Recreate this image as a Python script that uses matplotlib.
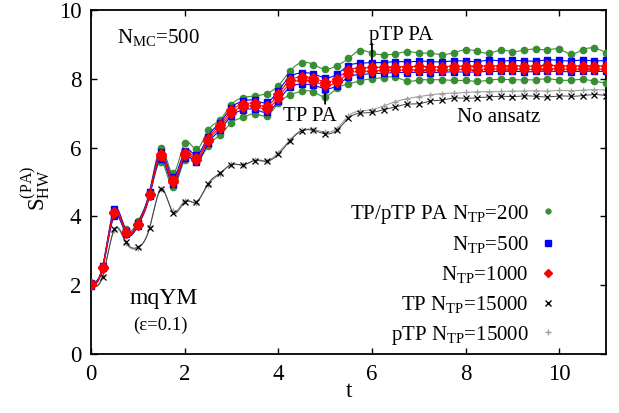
import numpy as np
import matplotlib
matplotlib.use("Agg")
import matplotlib.pyplot as plt
from matplotlib.lines import Line2D

plt.rcParams['font.family'] = ['Liberation Serif', 'DejaVu Serif']
plt.rcParams['mathtext.fontset'] = 'custom'
plt.rcParams['mathtext.rm'] = 'Liberation Serif'
plt.rcParams['mathtext.it'] = 'Liberation Serif:italic'

# ---------------- data ----------------
t = np.linspace(0, 11, 45)

green_ptp = [2.05, 2.55, 4.15, 3.62, 3.85, 4.72, 5.98, 5.25, 6.12, 5.95, 6.50, 6.80, 7.25, 7.45, 7.50,
             7.57, 7.80, 8.22, 8.47, 8.41, 8.28, 8.38, 8.59, 8.82, 8.74, 8.70, 8.72, 8.79, 8.75, 8.74,
             8.70, 8.76, 8.84, 8.80, 8.74, 8.83, 8.79, 8.83, 8.86, 8.84, 8.86, 8.72, 8.84, 8.89, 8.76]
green_tp = [2.00, 2.50, 4.08, 3.50, 3.72, 4.60, 5.59, 4.84, 5.65, 5.59, 6.05, 6.35, 6.72, 6.88, 6.98,
            6.93, 7.28, 7.53, 7.63, 7.62, 7.48, 7.72, 7.85, 7.94, 8.00, 8.03, 8.05, 7.93, 7.96, 7.97,
            7.97, 7.95, 7.95, 7.92, 7.96, 7.98, 7.97, 7.97, 7.97, 8.00, 7.96, 7.96, 7.98, 7.93, 7.87]

blue_ptp = [2.07, 2.55, 4.22, 3.57, 3.81, 4.70, 5.88, 5.13, 5.90, 5.78, 6.32, 6.72, 7.16, 7.35, 7.37,
            7.31, 7.65, 8.05, 8.17, 8.14, 8.03, 8.13, 8.38, 8.45, 8.47, 8.47, 8.50, 8.49, 8.51, 8.50,
            8.49, 8.52, 8.51, 8.50, 8.54, 8.52, 8.53, 8.52, 8.51, 8.55, 8.53, 8.52, 8.54, 8.52, 8.53]
blue_tp = [1.98, 2.49, 4.01, 3.49, 3.73, 4.58, 5.68, 4.94, 5.70, 5.58, 6.12, 6.50, 6.92, 7.09, 7.11,
           7.03, 7.35, 7.75, 7.84, 7.81, 7.71, 7.80, 8.05, 8.12, 8.15, 8.16, 8.18, 8.18, 8.19, 8.18,
           8.19, 8.20, 8.19, 8.20, 8.21, 8.21, 8.22, 8.20, 8.21, 8.22, 8.21, 8.20, 8.22, 8.21, 8.22]

red_ptp = [2.03, 2.53, 4.14, 3.55, 3.79, 4.66, 5.81, 5.06, 5.83, 5.71, 6.25, 6.65, 7.08, 7.26, 7.28,
           7.21, 7.55, 7.95, 8.05, 8.02, 7.91, 8.00, 8.25, 8.31, 8.33, 8.33, 8.35, 8.35, 8.36, 8.35,
           8.35, 8.37, 8.36, 8.36, 8.38, 8.37, 8.38, 8.37, 8.37, 8.39, 8.38, 8.37, 8.38, 8.37, 8.38]
red_tp = [2.01, 2.51, 4.10, 3.51, 3.75, 4.62, 5.75, 5.00, 5.77, 5.65, 6.19, 6.57, 7.00, 7.18, 7.20,
          7.13, 7.45, 7.85, 7.95, 7.92, 7.81, 7.90, 8.15, 8.21, 8.23, 8.24, 8.25, 8.26, 8.26, 8.26,
          8.25, 8.27, 8.27, 8.26, 8.29, 8.27, 8.29, 8.27, 8.28, 8.29, 8.29, 8.27, 8.29, 8.28, 8.28]

tp_15000 = [2.02, 2.25, 3.63, 3.25, 3.10, 3.65, 4.80, 4.11, 4.42, 4.42, 4.95, 5.25, 5.50, 5.50, 5.62,
            5.60, 5.80, 6.20, 6.48, 6.50, 6.40, 6.50, 6.85, 7.00, 7.02, 7.10, 7.18, 7.26, 7.27, 7.35,
            7.38, 7.44, 7.43, 7.45, 7.47, 7.49, 7.48, 7.50, 7.49, 7.47, 7.50, 7.49, 7.51, 7.54, 7.51]
ptp_15000 = [2.00, 2.28, 3.60, 3.22, 3.08, 3.68, 4.78, 4.15, 4.45, 4.40, 4.92, 5.22, 5.52, 5.48, 5.64,
             5.62, 5.85, 6.22, 6.50, 6.52, 6.45, 6.55, 6.92, 7.06, 7.10, 7.21, 7.33, 7.42, 7.48, 7.53,
             7.57, 7.58, 7.60, 7.62, 7.62, 7.63, 7.64, 7.64, 7.65, 7.64, 7.66, 7.65, 7.67, 7.68, 7.67]

legend_labels = [r'TP/pTP PA N$_{\rm TP}$=200', r'N$_{\rm TP}$=500', r'N$_{\rm TP}$=1000',
                 r'TP N$_{\rm TP}$=15000', r'pTP N$_{\rm TP}$=15000']


def cspline(x, y, n=800):
    x = np.asarray(x, float)
    y = np.asarray(y, float)
    m = len(x)
    h = np.diff(x)
    A = np.zeros((m, m))
    rhs = np.zeros(m)
    A[0, 0] = A[-1, -1] = 1.0
    for i in range(1, m - 1):
        A[i, i - 1] = h[i - 1]
        A[i, i] = 2 * (h[i - 1] + h[i])
        A[i, i + 1] = h[i]
        rhs[i] = 6 * ((y[i + 1] - y[i]) / h[i] - (y[i] - y[i - 1]) / h[i - 1])
    M = np.linalg.solve(A, rhs)
    xs = np.linspace(x[0], x[-1], n)
    idx = np.clip(np.searchsorted(x, xs) - 1, 0, m - 2)
    x0, x1 = x[idx], x[idx + 1]
    hh = x1 - x0
    a = (x1 - xs) / hh
    b = (xs - x0) / hh
    ys = a * y[idx] + b * y[idx + 1] + ((a ** 3 - a) * M[idx] + (b ** 3 - b) * M[idx + 1]) * hh ** 2 / 6
    return xs, ys


fig = plt.figure(figsize=(6.19, 4.13), dpi=100)
ax = fig.add_axes([0.147, 0.143, 0.832, 0.833])

GREEN = '#3a8d35'
BLUE = '#0000ff'
RED = '#ff0000'
GRAY = '#a0a0a0'

def draw(y, color, marker, ms, lcolor=None, lw=0.8, mew=1.0, z=2):
    xs, ys = cspline(t, y)
    ax.plot(xs, ys, color=lcolor or color, lw=lw, zorder=z)
    ax.plot(t, y, ls='none', marker=marker, ms=ms, color=color, mew=mew, zorder=z)

draw(ptp_15000, GRAY, '+', 5, lw=0.8, z=2)
draw(tp_15000, 'black', 'x', 4, lcolor='#404040', lw=0.7, mew=0.9, z=2.1)
draw(green_ptp, GREEN, 'o', 4.5, z=3)
draw(green_tp, GREEN, 'o', 4.5, z=3)
draw(blue_ptp, BLUE, 's', 5, z=4)
draw(blue_tp, BLUE, 's', 5, z=4)
draw(red_ptp, RED, 'D', 5.2, z=5)
draw(red_tp, RED, 'D', 5.2, z=5)

ax.set_xlim(0, 11)
ax.set_ylim(0, 10)
ax.set_xticks([0, 2, 4, 6, 8, 10])
ax.set_yticks([0, 2, 4, 6, 8, 10])
ax.tick_params(direction='in', top=True, right=True, length=4, width=1.0,
               labelsize=16.5, pad=7)
for s in ax.spines.values():
    s.set_linewidth(1.3)

ax.set_xlabel('t', fontsize=16.5)
ax.xaxis.set_label_coords(0.5, -0.08)
ax.set_ylabel(r'S$_{\rm HW}^{\rm (PA)}$', fontsize=16.5)
ax.yaxis.set_label_coords(-0.075, 0.48)

# texts
ax.text(0.55, 9.19, r'N$_{\rm MC}$=500', fontsize=15, ha='left', va='center')
ax.text(1.55, 1.6, 'mqYM', fontsize=17, ha='center', va='center')
ax.text(1.48, 0.84, '(ε=0.1)', fontsize=13.5, ha='center', va='center')
ax.text(8.71, 6.88, 'No ansatz', fontsize=15, ha='center', va='center')
ax.text(6.62, 9.27, 'pTP PA', fontsize=15, ha='center', va='center')
ax.text(4.68, 6.89, 'TP PA', fontsize=15, ha='center', va='center')
ax.annotate('', xy=(6.0, 8.28), xytext=(6.0, 9.02),
            arrowprops=dict(arrowstyle='-|>', color='black', lw=1.3, mutation_scale=9,
                            shrinkA=0, shrinkB=0))
ax.annotate('', xy=(5.0, 7.80), xytext=(5.0, 7.27),
            arrowprops=dict(arrowstyle='-|>', color='black', lw=1.3, mutation_scale=9,
                            shrinkA=0, shrinkB=0))

handles = [
    Line2D([], [], ls='none', marker='o', ms=3.5, color=GREEN),
    Line2D([], [], ls='none', marker='s', ms=4.5, color=BLUE),
    Line2D([], [], ls='none', marker='D', ms=4.5, color=RED),
    Line2D([], [], ls='none', marker='x', ms=4, color='black'),
    Line2D([], [], ls='none', marker='+', ms=5, color=GRAY),
]
ax.legend(handles, legend_labels, loc='upper right', bbox_to_anchor=(0.907, 0.44),
          frameon=False, markerfirst=False, fontsize=15, handlelength=1.0,
          handletextpad=0.4, labelspacing=0.42, borderpad=0, borderaxespad=0)

fig.savefig('out.png', dpi=100)
